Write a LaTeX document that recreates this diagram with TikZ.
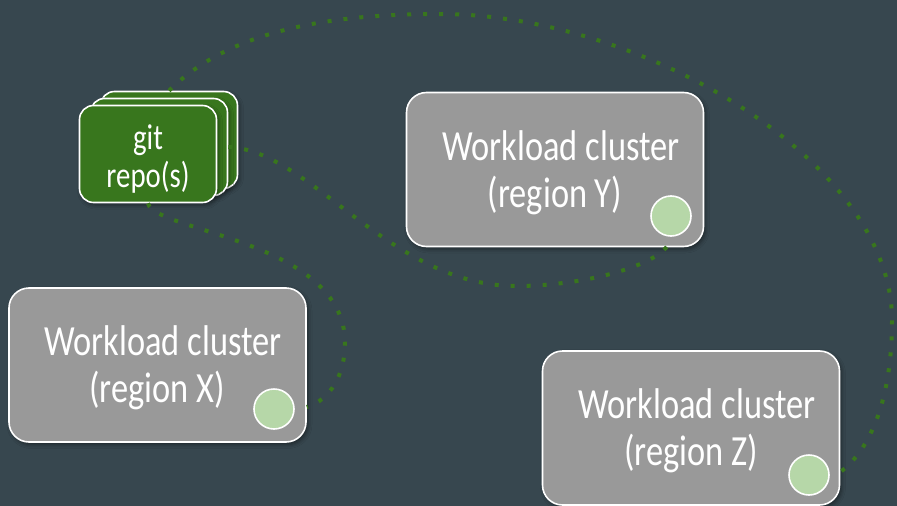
\documentclass[tikz,border=0pt]{standalone}
\usepackage{fontspec}
\setmainfont[FakeStretch=0.8]{Carlito}
\usetikzlibrary{shadows.blur}
\definecolor{slate}{HTML}{37474F}
\definecolor{repogreen}{HTML}{38761D}
\definecolor{clustergray}{HTML}{999999}
\definecolor{podgreen}{HTML}{B6D7A8}
\begin{document}
\begin{tikzpicture}[x=1pt,y=-1pt,
  softshadow/.style={blur shadow={shadow xshift=2pt, shadow yshift=-2.5pt,
      shadow blur radius=4pt, shadow opacity=45}},
  cluster/.style={draw=white, line width=1.6pt, fill=clustergray,
      rounded corners=20pt, minimum width=297pt, minimum height=154pt,
      inner sep=0pt, softshadow},
  repo/.style={draw=white, line width=1.6pt, fill=repogreen,
      rounded corners=14pt, minimum width=137pt, minimum height=97pt,
      inner sep=0pt, softshadow},
  agent/.style={circle, draw=white, line width=1.6pt, fill=podgreen,
      minimum size=40pt, inner sep=0pt},
  caption/.style={text=white, font=\fontsize{43}{47}\selectfont,
      anchor=base, inner sep=0pt},
  repotext/.style={text=white, font=\fontsize{36}{38}\selectfont,
      anchor=base, inner sep=0pt},
  sync/.style={draw=repogreen, line width=4pt, dash pattern=on 4pt off 12pt}
]
% canvas
\fill[slate] (0,0) rectangle (897,506);
\useasboundingbox (0,0) rectangle (897,506);

% stack of git repositories
\node[repo] (repoback)  at (169,140) {};
\node[repo] (repomid)   at (159,147) {};
\node[repo] (repofront) at (148,154) {};
\node[repotext] (gitline)  at (148,149) {git};
\node[repotext] (repoline) at (148,187) {repo(s)};

% workload clusters
\node[cluster] (clusterX) at (157.5,365) {};
\node[caption] (xline1) at (163,355) {Workload cluster};
\node[caption] (xline2) at (157,402) {(region X)};
\node[agent] (podX) at (274,409) {};

\node[cluster] (clusterY) at (555,169.5) {};
\node[caption] (yline1) at (561,160) {Workload cluster};
\node[caption] (yline2) at (555,207) {(region Y)};
\node[agent] (podY) at (671,216) {};

\node[cluster] (clusterZ) at (691,428) {};
\node[caption] (zline1) at (697,418) {Workload cluster};
\node[caption] (zline2) at (691,465) {(region Z)};
\node[agent] (podZ) at (809,475) {};

% way points of the sync links
\coordinate (arctop)   at (440,14);
\coordinate (arcright) at (892,320);
\coordinate (dipY)     at (516,286);
\coordinate (bulgeX)   at (345,343);

% sync links
\draw[sync] (repoback.north) .. controls (230,30) and (330,14) .. (arctop)
  .. controls (640,14) and (892,160) .. (arcright)
  .. controls (892,400) and (870,450) .. ([yshift=-44pt]clusterZ.east);
\draw[sync] (repomid.east) .. controls (310,150) and (390,286) .. (dipY)
  .. controls (590,286) and (671,262) .. (podY.south);
\draw[sync] (repofront.south) .. controls (155,232) and (345,240) .. (bulgeX)
  .. controls (345,375) and (330,400) .. ([yshift=-42pt]clusterX.east);
\end{tikzpicture}
\end{document}
